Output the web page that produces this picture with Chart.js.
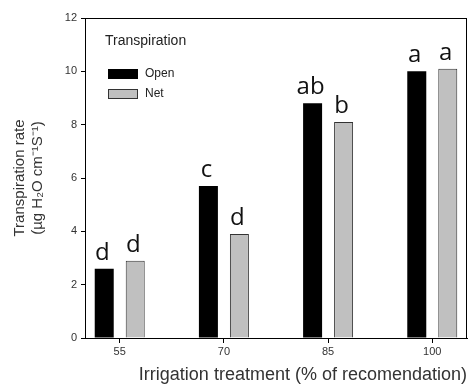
<!DOCTYPE html>
<html>
<head>
<meta charset="utf-8">
<script src="https://cdn.jsdelivr.net/npm/chart.js@4.4.0/dist/chart.umd.min.js"></script>
<style>
  html, body { margin: 0; padding: 0; background: #fff; }
</style>
</head>
<body>
<canvas id="transpChart" width="468" height="385"></canvas>
<script>
// datos
const tratamientos = [55, 70, 85, 100];
const abierto = [2.6, 5.7, 8.8, 10.0];
const malla = [2.9, 3.9, 8.1, 10.1];
const letrasAbierto = ['d', 'c', 'ab', 'a'];
const letrasMalla = ['d', 'd', 'b', 'a'];
const ticksY = [0, 2, 4, 6, 8, 10, 12];

const fuente = "'Liberation Sans', Arial, sans-serif";

// marco alrededor del área del gráfico
const marco = {
    id: 'marco',
    afterDraw(chart) {
        const a = chart.chartArea;
        const c = chart.ctx;
        c.save();
        c.strokeStyle = '#000';
        c.lineWidth = 1;
        c.strokeRect(Math.round(a.left) + 0.5, Math.round(a.top) + 0.5,
            Math.round(a.right - a.left) - 1, Math.round(a.bottom - a.top));
        c.restore();
    }
};

// letras de significancia encima de las barras
const letras = {
    id: 'letras',
    afterDatasetsDraw(chart) {
        const c = chart.ctx;
        c.save();
        c.font = "24px 'Open Sans', sans-serif";
        c.fillStyle = '#111';
        c.textAlign = 'center';
        c.textBaseline = 'alphabetic';
        chart.data.datasets.forEach((ds, i) => {
            const meta = chart.getDatasetMeta(i);
            meta.data.forEach((bar, j) => {
                c.fillText(ds.letras[j], bar.x - 2, bar.y - 9);
            });
        });
        c.restore();
    }
};

// leyenda dentro del gráfico
const leyenda = {
    id: 'leyenda',
    afterDraw(chart) {
        const c = chart.ctx;
        c.save();
        c.fillStyle = '#222';
        c.font = '14px ' + fuente;
        c.textBaseline = 'alphabetic';
        c.fillText('Transpiration', 105, 45);
        c.font = '12px ' + fuente;
        c.textBaseline = 'middle';
        chart.data.datasets.forEach((ds, i) => {
            const y = 69 + i * 20;
            c.fillStyle = ds.backgroundColor;
            c.fillRect(108, y, 30, 10);
            if (ds.borderWidth) {
                c.strokeStyle = ds.borderColor;
                c.lineWidth = 1;
                c.strokeRect(108.5, y + 0.5, 29, 9);
            }
            c.fillStyle = '#222';
            c.fillText(ds.label, 145, y + 5);
        });
        c.restore();
    }
};

const ctx = document.getElementById('transpChart').getContext('2d');
const transpChart = new Chart(ctx, {
    type: 'bar',
    data: {
        datasets: [{
            label: 'Open',
            data: tratamientos.map((t, i) => ({ x: t, y: abierto[i] })),
            backgroundColor: '#000000',
            borderWidth: 0,
            letras: letrasAbierto
        }, {
            label: 'Net',
            data: tratamientos.map((t, i) => ({ x: t, y: malla[i] })),
            backgroundColor: '#c0c0c0',
            borderColor: '#333333',
            borderWidth: 1,
            letras: letrasMalla
        }]
    },
    options: {
        responsive: false,
        animation: false,
        categoryPercentage: 0.595,
        barPercentage: 0.613,
        layout: { padding: { top: 18, right: 1, left: 0, bottom: 0 } },
        plugins: {
            legend: { display: false },
            tooltip: { enabled: false }
        },
        scales: {
            x: {
                type: 'linear',
                min: 50,
                max: 105,
                offset: false,
                afterBuildTicks: scale => { scale.ticks = tratamientos.map(v => ({ value: v })); },
                afterFit: scale => { scale.height = 47; },
                ticks: { font: { family: fuente, size: 11 }, color: '#333', padding: 2 },
                grid: { offset: false, drawOnChartArea: false, tickLength: 5, color: '#000' },
                border: { color: '#000' },
                title: {
                    display: true,
                    text: 'Irrigation treatment (% of recomendation)',
                    align: 'end',
                    font: { family: fuente, size: 18 },
                    color: '#333',
                    padding: { top: 0, bottom: -1 }
                }
            },
            y: {
                min: 0,
                max: 12,
                afterBuildTicks: scale => { scale.ticks = ticksY.map(v => ({ value: v })); },
                afterFit: scale => { scale.width = 85; },
                ticks: { font: { family: fuente, size: 11 }, color: '#333', padding: 4 },
                grid: { drawOnChartArea: false, tickLength: 4, color: '#000' },
                border: { color: '#000' },
                title: {
                    display: true,
                    text: ['Transpiration rate', '(µg H\u2082O cm\u207B\u00B9S\u207B\u00B9)'],
                    font: { family: fuente, size: 15 },
                    color: '#333',
                    padding: { top: 11, bottom: 0 }
                }
            }
        }
    },
    plugins: [marco, letras, leyenda]
});
</script>
</body>
</html>
